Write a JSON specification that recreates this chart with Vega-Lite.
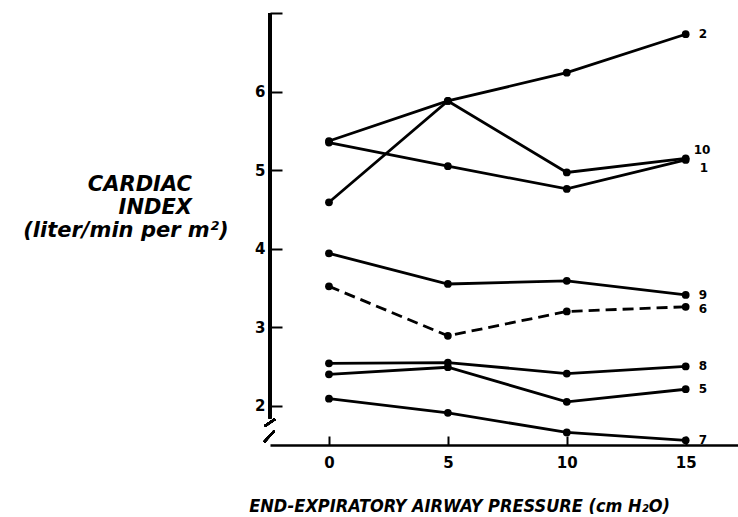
{
  "$schema": "https://vega.github.io/schema/vega-lite/v6.json",
  "width": 468,
  "height": 432,
  "autosize": {"type": "none"},
  "padding": {"left": 270, "top": 13, "right": 0, "bottom": 72},
  "background": "white",
  "config": {
    "view": {"stroke": null},
    "axis": {
      "domainColor": "black",
      "domainWidth": 2.5,
      "tickColor": "black",
      "tickWidth": 2,
      "labelColor": "black",
      "labelFont": "DejaVu Sans",
      "labelFontWeight": "bold",
      "labelFontSize": 15,
      "titleColor": "black",
      "titleFont": "DejaVu Sans",
      "titleFontStyle": "italic",
      "titleFontWeight": "bold",
      "grid": false
    }
  },
  "datasets": {
    "pts": [
      {"series": "2", "x": 0, "y": 5.37}, {"series": "2", "x": 5, "y": 5.88}, {"series": "2", "x": 10, "y": 6.24}, {"series": "2", "x": 15, "y": 6.73},
      {"series": "10", "x": 0, "y": 4.59}, {"series": "10", "x": 5, "y": 5.88}, {"series": "10", "x": 10, "y": 4.97}, {"series": "10", "x": 15, "y": 5.15},
      {"series": "1", "x": 0, "y": 5.35}, {"series": "1", "x": 5, "y": 5.05}, {"series": "1", "x": 10, "y": 4.76}, {"series": "1", "x": 15, "y": 5.13},
      {"series": "9", "x": 0, "y": 3.94}, {"series": "9", "x": 5, "y": 3.55}, {"series": "9", "x": 10, "y": 3.59}, {"series": "9", "x": 15, "y": 3.41},
      {"series": "6", "x": 0, "y": 3.52}, {"series": "6", "x": 5, "y": 2.89}, {"series": "6", "x": 10, "y": 3.2}, {"series": "6", "x": 15, "y": 3.26},
      {"series": "8", "x": 0, "y": 2.54}, {"series": "8", "x": 5, "y": 2.55}, {"series": "8", "x": 10, "y": 2.41}, {"series": "8", "x": 15, "y": 2.5},
      {"series": "5", "x": 0, "y": 2.4}, {"series": "5", "x": 5, "y": 2.49}, {"series": "5", "x": 10, "y": 2.05}, {"series": "5", "x": 15, "y": 2.21},
      {"series": "7", "x": 0, "y": 2.09}, {"series": "7", "x": 5, "y": 1.91}, {"series": "7", "x": 10, "y": 1.66}, {"series": "7", "x": 15, "y": 1.56}
    ]
  },
  "data": {"name": "pts"},
  "encoding": {
    "x": {
      "field": "x", "type": "quantitative",
      "scale": {"domain": [-2.48, 17.2], "nice": false, "zero": false},
      "axis": {
        "values": [0, 5, 10, 15],
        "tickSize": -9,
        "labelPadding": 19,
        "title": "END-EXPIRATORY AIRWAY PRESSURE (cm H₂O)",
        "titleFont": "DejaVu Sans Condensed",
        "titleFontSize": 18,
        "titleAlign": "center",
        "titleAnchor": null,
        "titleX": 189,
        "titleY": 66,
        "titleBaseline": "alphabetic"
      }
    },
    "y": {
      "field": "y", "type": "quantitative",
      "scale": {"domain": [1.5, 7.0], "nice": false, "zero": false},
      "axis": {
        "values": [2, 3, 4, 5, 6, 7],
        "labelExpr": "datum.value == 7 ? '' : datum.label",
        "tickSize": -12,
        "labelPadding": 17,
        "domain": false,
        "title": ["CARDIAC\u00a0\u00a0\u00a0\u00a0\u00a0\u200b", "INDEX\u00a0\u00a0\u00a0\u00a0\u00a0\u200b", "(liter/min per m²)"],
        "titleAngle": 0,
        "titleFontSize": 21,
        "titleAlign": "right",
        "titleAnchor": null,
        "titleX": -42,
        "titleY": 177,
        "titleBaseline": "alphabetic",
        "titleLineHeight": 23
      }
    }
  },
  "layer": [
    {
      "mark": {"type": "rule", "color": "black", "strokeWidth": 2.5},
      "encoding": {
        "x": {"datum": -2.48, "type": "quantitative"},
        "y": {"datum": 7.0, "type": "quantitative"},
        "y2": {"datum": 1.84}
      }
    },
    {
      "mark": {"type": "rule", "color": "black", "strokeWidth": 2},
      "encoding": {
        "x": {"datum": -2.7, "type": "quantitative"},
        "x2": {"datum": -2.27},
        "y": {"datum": 1.74, "type": "quantitative"},
        "y2": {"datum": 1.83}
      }
    },
    {
      "mark": {"type": "rule", "color": "black", "strokeWidth": 2},
      "encoding": {
        "x": {"datum": -2.72, "type": "quantitative"},
        "x2": {"datum": -2.3},
        "y": {"datum": 1.54, "type": "quantitative"},
        "y2": {"datum": 1.68}
      }
    },
    {
      "transform": [{"filter": "datum.series != '6'"}],
      "mark": {"type": "line", "color": "black", "strokeWidth": 2.8},
      "encoding": {"detail": {"field": "series"}}
    },
    {
      "transform": [{"filter": "datum.series == '6'"}],
      "mark": {"type": "line", "color": "black", "strokeWidth": 2.8, "strokeDash": [11, 6]},
      "encoding": {"detail": {"field": "series"}}
    },
    {
      "mark": {"type": "circle", "color": "black", "opacity": 1, "size": 60}
    },
    {
      "transform": [{"filter": "datum.x == 15 && datum.series != '10' && datum.series != '1' && datum.series != '6'"}],
      "mark": {"type": "text", "align": "left", "dx": 13, "dy": 0, "font": "DejaVu Sans", "fontWeight": "bold", "fontSize": 12, "color": "black"},
      "encoding": {"text": {"field": "series"}}
    },
    {
      "transform": [{"filter": "datum.x == 15 && datum.series == '6'"}],
      "mark": {"type": "text", "align": "left", "dx": 13, "dy": 2, "font": "DejaVu Sans", "fontWeight": "bold", "fontSize": 12, "color": "black"},
      "encoding": {"text": {"field": "series"}}
    },
    {
      "transform": [{"filter": "datum.x == 15 && datum.series == '10'"}],
      "mark": {"type": "text", "align": "left", "dx": 8, "dy": -8, "font": "DejaVu Sans", "fontWeight": "bold", "fontSize": 12, "color": "black"},
      "encoding": {"text": {"field": "series"}}
    },
    {
      "transform": [{"filter": "datum.x == 15 && datum.series == '1'"}],
      "mark": {"type": "text", "align": "left", "dx": 14, "dy": 8, "font": "DejaVu Sans", "fontWeight": "bold", "fontSize": 12, "color": "black"},
      "encoding": {"text": {"field": "series"}}
    }
  ]
}
